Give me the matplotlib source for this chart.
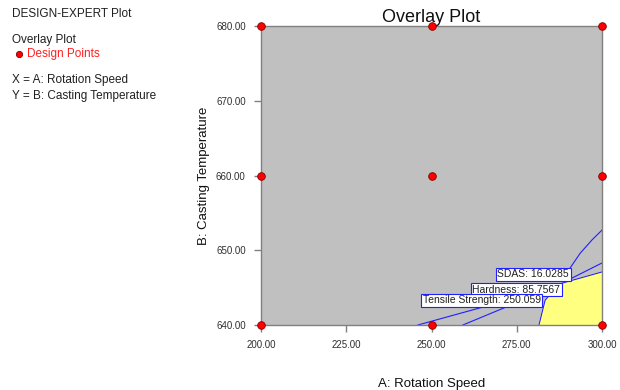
import numpy as np
import matplotlib.pyplot as plt

plt.rcParams["font.family"] = ["Liberation Sans", "DejaVu Sans"]

# design points (A: rotation speed, B: casting temperature)
design_a = [200, 200, 200, 250, 250, 250, 300, 300, 300]
design_b = [640, 660, 680, 640, 660, 680, 640, 660, 680]

# contour traces
tensile_a = [246.0, 265.1, 270.1]
tensile_b = [640.0, 642.4, 643.3]
hardness_a = [259.2, 272.4, 278.9]
hardness_b = [640.0, 642.5, 643.9]
bound_a = [281.5, 283.3, 285.3, 288.3, 300.0]
bound_b = [640.0, 643.3, 644.4, 645.6, 647.1]
upper_a = [288.3, 290.0, 300.0]
upper_b = [645.8, 646.0, 648.3]
sdas_a = [289.4, 290.6, 293.6, 297.1, 300.0]
sdas_b = [647.1, 647.6, 649.6, 651.4, 652.7]

# flag labels: text, position
flag_text = ["SDAS: 16.0285", "Hardness: 85.7567", "Tensile Strength: 250.059"]
flag_a = [279.8, 274.8, 264.7]
flag_b = [646.8, 644.7, 643.3]

x_ticks = [200, 225, 250, 275, 300]
y_ticks = [640, 650, 660, 670, 680]

fig = plt.figure(figsize=(6.2, 3.9), dpi=100)
ax = fig.add_axes([0.421, 0.1667, 0.55, 0.7666])
ax.set_facecolor("#c0c0c0")

# feasible window
ax.fill(bound_a + [300], bound_b + [640], color="#ffff80", zorder=1)

line_kw = dict(color="#2020ff", lw=0.8, zorder=2)
ax.plot(tensile_a, tensile_b, **line_kw)
ax.plot(hardness_a, hardness_b, **line_kw)
ax.plot(bound_a, bound_b, **line_kw)
ax.plot(upper_a, upper_b, **line_kw)
ax.plot(sdas_a, sdas_b, **line_kw)

for txt, a, b in zip(flag_text, flag_a, flag_b):
    ax.text(a, b, txt, ha="center", va="center", fontsize=7.5, color="#202020",
            zorder=4,
            bbox=dict(boxstyle="square,pad=0.15", fc="white", ec="#2020ff", lw=0.8))

ax.plot(design_a, design_b, "o", color="#ff0000", mec="#800000", mew=0.6,
        ms=5.5, clip_on=False, zorder=5)

ax.set_xlim(200, 300)
ax.set_ylim(640, 680)
ax.set_xticks(x_ticks)
ax.set_yticks(y_ticks)
ax.set_xticklabels([f"{v:.2f}" for v in x_ticks])
ax.set_yticklabels([f"{v:.2f}" for v in y_ticks])
ax.tick_params(direction="out", length=5, width=1, color="#808080",
               labelsize=7, labelcolor="#303030", pad=6)
for s in ax.spines.values():
    s.set_color("#808080")
    s.set_linewidth(1)

ax.set_title("Overlay Plot", fontsize=13, color="#101010", pad=3)
ax.set_xlabel("A: Rotation Speed", fontsize=9.5, color="#101010", labelpad=20)
ax.set_ylabel("B: Casting Temperature", fontsize=9.5, color="#101010", labelpad=4)

# header text block
fig.text(12 / 620, 1 - 14 / 390, "DESIGN-EXPERT Plot", fontsize=8.5, va="center", color="#202020")
fig.text(12 / 620, 1 - 40 / 390, "Overlay Plot", fontsize=8.5, va="center", color="#202020")
fig.text(27 / 620, 1 - 54 / 390, "Design Points", fontsize=8.5, va="center", color="#ff2020")
fig.lines.append(plt.Line2D([19 / 620], [1 - 54 / 390], marker="o", color="#ff0000",
                            mec="#800000", mew=0.6, ms=4.5, transform=fig.transFigure))
fig.text(12 / 620, 1 - 80 / 390, "X = A: Rotation Speed", fontsize=8.5, va="center", color="#202020")
fig.text(12 / 620, 1 - 96 / 390, "Y = B: Casting Temperature", fontsize=8.5, va="center", color="#202020")

fig.savefig("out.png", dpi=100)
